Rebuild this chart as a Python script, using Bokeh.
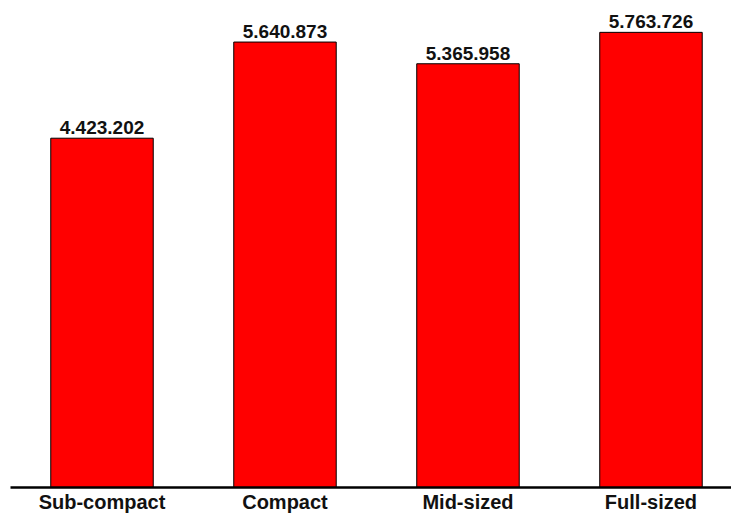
from bokeh.plotting import figure
from bokeh.models import ColumnDataSource, FixedTicker, Range1d
from bokeh.core.properties import value
from bokeh.embed import file_html
from bokeh.resources import INLINE

categories = ["Sub-compact", "Compact", "Mid-sized", "Full-sized"]
values = [4423202, 5640873, 5365958, 5763726]
labels = ["4.423.202", "5.640.873", "5.365.958", "5.763.726"]

xs = list(range(len(categories)))
src = ColumnDataSource(dict(x=xs, top=values, label=labels))

p = figure(width=731, height=515, output_backend="svg", toolbar_location=None,
           x_range=Range1d(-0.5, 3.44), y_range=Range1d(0, 6167000),
           min_border_left=10, min_border_right=0, min_border_top=0, min_border_bottom=0)
p.outline_line_color = None
p.grid.grid_line_color = None
p.yaxis.visible = False

p.vbar(x="x", top="top", width=0.56, source=src, fill_color="#ff0000",
       line_color="black", line_width=1)
p.text(x="x", y="top", text="label", source=src, text_align="center",
       text_baseline="bottom", y_offset=-4, text_font=value("Liberation Sans"),
       text_font_style="bold", text_font_size="19px", text_color="#111111")

ax = p.xaxis[0]
ax.ticker = FixedTicker(ticks=xs)
ax.major_label_overrides = {i: c for i, c in enumerate(categories)}
ax.major_tick_line_color = None
ax.minor_tick_line_color = None
ax.major_tick_out = 0
ax.major_tick_in = 0
ax.axis_line_color = "black"
ax.axis_line_width = 2.5
ax.major_label_standoff = 3
ax.major_label_text_font = "Liberation Sans"
ax.major_label_text_font_style = "bold"
ax.major_label_text_font_size = "20px"
ax.major_label_text_color = "#111111"

open("out.html", "w").write(file_html(p, INLINE))
